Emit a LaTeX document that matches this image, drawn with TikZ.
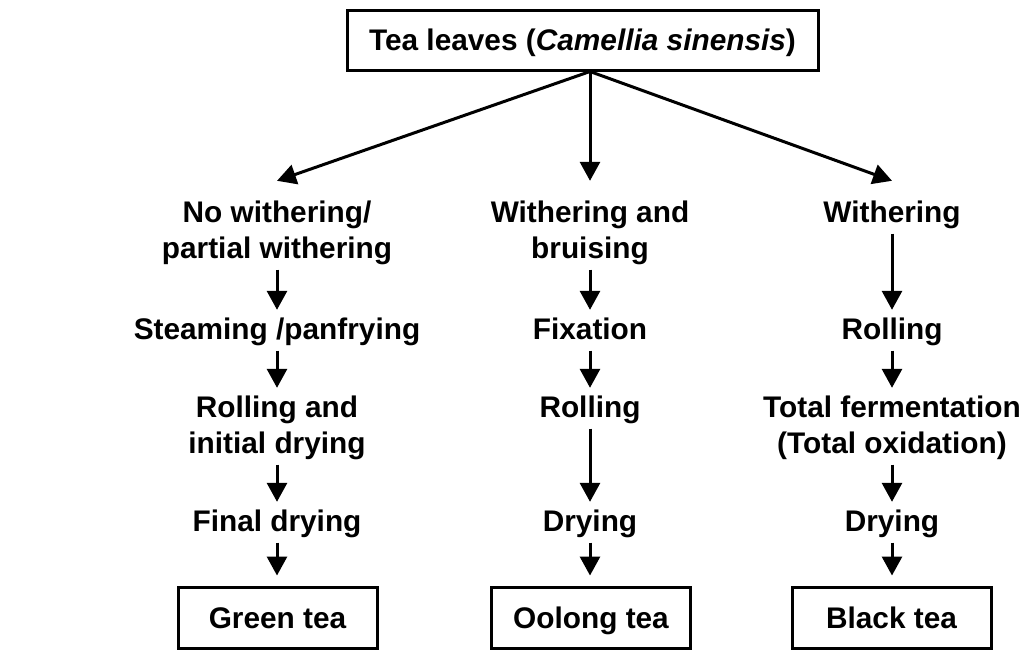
\documentclass[tikz,border=0pt]{standalone}
\usepackage{fontspec}
\setmainfont{Liberation Sans}
\usetikzlibrary{arrows.meta}

\begin{document}
\begin{tikzpicture}[x=0.5pt,y=-0.5pt,
    every node/.style={font=\fontsize{14.9}{18}\selectfont\bfseries, inner sep=0pt},
    stage/.style={anchor=north, align=center},
    teabox/.style={draw, line width=1.5pt, minimum width=99.5pt, minimum height=30.5pt,
      text height=10.6pt, text depth=0pt},
    arr/.style={line width=1.5pt, -{Triangle[width=10pt,length=9.5pt]}, shorten >=2pt}]
  \useasboundingbox (0,0) rectangle (1028,650);
  \node[draw, line width=1.5pt, minimum width=235.5pt, minimum height=30pt,
    text height=10.6pt, text depth=0pt] (leaves) at (582.5,40)
    {Tea leaves (\textit{Camellia sinensis})};

  \node[stage] (g1) at (277,196.8) {\strut No withering/\\partial withering\strut};
  \node[stage] (g2) at (277,313.8) {\strut Steaming /panfrying};
  \node[stage] (g3) at (277,391.8) {\strut Rolling and\\initial drying\strut};
  \node[stage] (g4) at (277,505.8) {\strut Final drying};
  \node[teabox] (green) at (277.5,617.5) {Green tea};

  \node[stage] (o1) at (590,196.8) {\strut Withering and\\bruising\strut};
  \node[stage] (o2) at (590,313.8) {\strut Fixation};
  \node[stage] (o3) at (590,391.8) {\strut Rolling};
  \node[stage] (o4) at (590,505.8) {\strut Drying};
  \node[teabox] (oolong) at (591,617.5) {Oolong tea};

  \node[stage] (b1) at (892,196.8) {\strut Withering};
  \node[stage] (b2) at (892,313.8) {\strut Rolling};
  \node[stage] (b3) at (892,391.8) {\strut Total fermentation\\(Total oxidation)\strut};
  \node[stage] (b4) at (892,505.8) {\strut Drying};
  \node[teabox] (black) at (891.5,617.5) {Black tea};

  \coordinate (fork) at (leaves.south -| o1);
  \foreach \n in {g1,o1,b1}
    \draw[arr, shorten >=0pt] (fork) -- ([yshift=8pt]\n.north);
  \foreach \a/\b in {g1/g2,g2/g3,g3/g4,o1/o2,o2/o3,o3/o4,b1/b2,b2/b3,b3/b4}
    \draw[arr] (\a) -- (\b);
  \foreach \a/\b in {g4/green,o4/oolong,b4/black}
    \draw[arr, shorten >=5pt] (\a.south) -- (\a.south |- \b.north);
\end{tikzpicture}
\end{document}
